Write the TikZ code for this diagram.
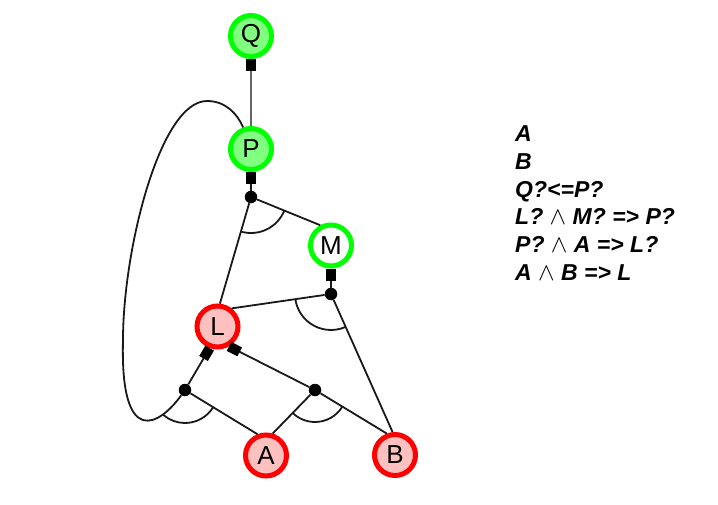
\documentclass[tikz,border=0pt]{standalone}
\usepackage{fontspec}
\setmainfont{Liberation Sans}
\usetikzlibrary{arrows.meta,calc}
\definecolor{gring}{RGB}{0,255,0}
\definecolor{gfill}{RGB}{128,255,128}
\definecolor{rring}{RGB}{255,0,0}
\definecolor{rfill}{RGB}{255,192,192}
\newcommand{\andsym}{{\fontsize{24}{24}\selectfont$\wedge$}}
\begin{document}
\begin{tikzpicture}[x=1pt,y=-1pt,
  st/.style={circle, minimum size=41pt, inner sep=0pt, line width=5pt, font=\fontsize{26}{26}\selectfont},
  gr/.style={st, draw=gring, fill=gfill},
  gw/.style={st, draw=gring, fill=white},
  rd/.style={st, draw=rring, fill=rfill},
  jdot/.style={circle, fill=black, inner sep=0pt, minimum size=12.5pt},
  conn/.style={line width=1.8pt, draw=black!90},
  conna/.style={conn, -{Rectangle[length=12pt,width=10pt,color=black]}},
  rule/.style={anchor=base west, inner sep=0pt, font=\fontsize{23}{23}\selectfont\bfseries\itshape},
]
\useasboundingbox (0,0) rectangle (718,504);
% nodes
\node[gr] (Q) at (251,36) {Q};
\node[gr] (P) at (251,149) {P};
\node[gw] (M) at (331,245.5) {M};
\node[rd] (L) at (217.5,326.5) {L};
\node[rd] (A) at (266,455.5) {A};
\node[rd] (B) at (395,455) {B};
% junctions
\node[jdot] (d1) at (251,197) {};
\node[jdot] (d2) at (331,294) {};
\node[jdot] (d3) at (185,390) {};
\node[jdot] (d4) at (315,390) {};
% edges
\draw[conna, draw=black!60] (P) -- (Q);
\draw[conna] (d1) -- (P);
\draw[conn] (L.84) -- (d1);
\draw[conn] (M.118) -- (d1);
\draw[conna] (d2) -- (M);
\draw[conn] (L.52) -- (d2);
\draw[conn] (B.96) -- (d2);
\draw[conna] (d3) -- (L.250);
\draw[conn] (A.112) -- (d3);
\draw[conna] (d4) -- (L.300);
\draw[conn] (A.73) -- (d4);
\draw[conn] (B.111) -- (d4);
\draw[conn] (d3) .. controls (160,425) and (120,450) .. (123,340)
  .. controls (123,250) and (160,101) .. (207,101)
  .. controls (225,101) and (237,113) .. (P.110);
% and-arcs
\draw[conn] ($(d1)+(22:36)$) arc[start angle=22, end angle=106, radius=36];
\draw[conn] ($(d2)+(66:36)$) arc[start angle=66, end angle=172, radius=36];
\draw[conn] ($(d3)+(31:33)$) arc[start angle=31, end angle=131, radius=33];
\draw[conn] ($(d4)+(31:32)$) arc[start angle=31, end angle=134, radius=32];
% rules text
\node[rule] (t1) at (515,141.5) {A};
\node[rule] (t2) at (515,169.2) {B};
\node[rule] (t3) at (515,197) {Q?<=P?};
\node[rule] (t4) at (515,224.8) {L? \andsym{} M? => P?};
\node[rule] (t5) at (515,252.5) {P? \andsym{} A => L?};
\node[rule] (t6) at (515,280.2) {A \andsym{} B => L};
\end{tikzpicture}
\end{document}
